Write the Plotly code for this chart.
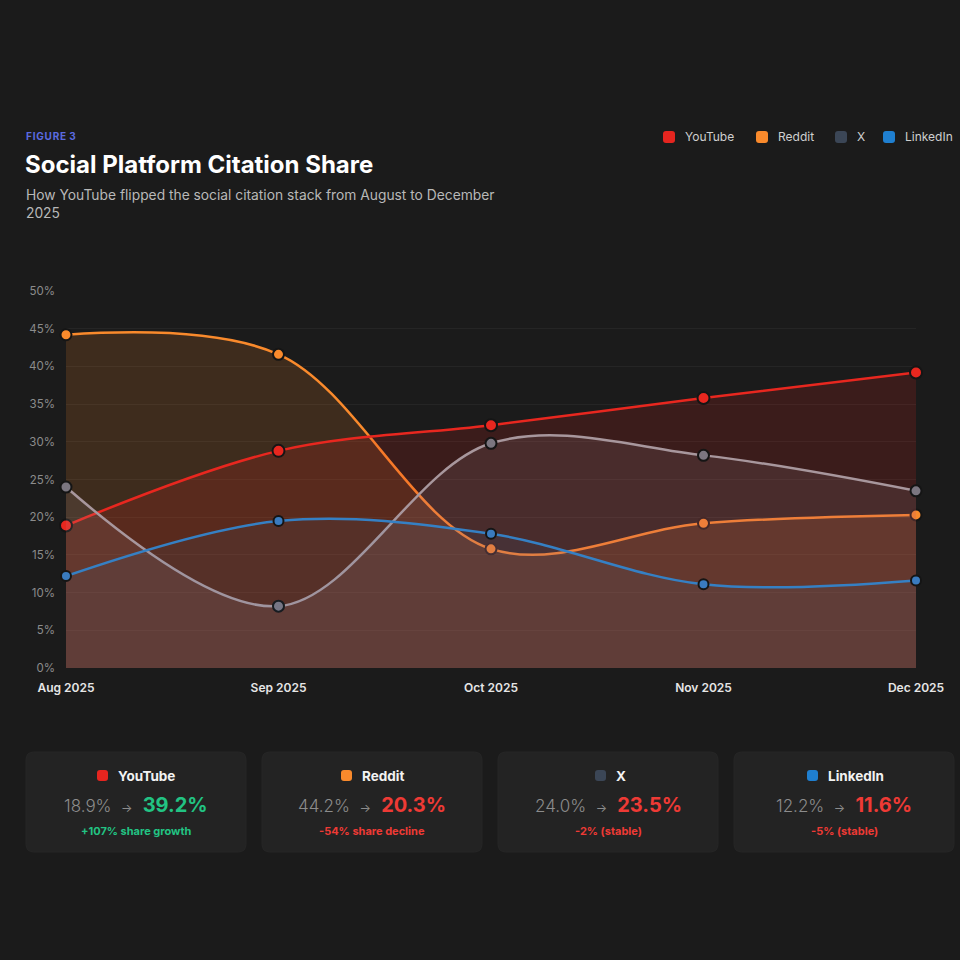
import plotly.graph_objects as go

# ---------------- data ----------------
months = ["Aug 2025", "Sep 2025", "Oct 2025", "Nov 2025", "Dec 2025"]
platforms = ["YouTube", "Reddit", "X", "LinkedIn"]
youtube = [18.9, 28.8, 32.2, 35.8, 39.2]
reddit = [44.2, 41.6, 15.8, 19.2, 20.3]
x_share = [24.0, 8.2, 29.8, 28.2, 23.5]
linkedin = [12.2, 19.5, 17.8, 11.1, 11.6]
change_notes = ["share growth", "share decline", "(stable)", "(stable)"]
y_ticks = [0, 5, 10, 15, 20, 25, 30, 35, 40, 45, 50]

series = {"YouTube": youtube, "Reddit": reddit, "X": x_share, "LinkedIn": linkedin}

# ---------------- style ----------------
BG = "#1b1b1b"
CARD = "#232323"
legend_col = {"YouTube": "#e5251f", "Reddit": "#f98a2c", "X": "#3b4656", "LinkedIn": "#1f7fd0"}
line_col = {"YouTube": "#e8271f", "Reddit": "#f98a2c", "X": "#a8979d", "LinkedIn": "#3580c4"}
marker_col = {"YouTube": "#e8271f", "Reddit": "#f98a2c", "X": "#7b7680", "LinkedIn": "#3a7bbf"}
marker_size = {"YouTube": 12, "Reddit": 11, "X": 11, "LinkedIn": 10}
fill_col = {"YouTube": "rgba(229,37,31,0.16)", "Reddit": "rgba(247,137,43,0.16)",
            "X": "rgba(183,165,171,0.12)", "LinkedIn": "rgba(53,128,196,0.07)"}
FONT = "Inter"

# plot-area pixel frame
L, R, T, B = 66, 916, 291, 668
W = H = 960


def px(x):
    return (x - L) / (R - L)


def py(y):
    return (B - y) / (B - T)


fig = go.Figure()
draw_order = ["Reddit", "YouTube", "X", "LinkedIn"]
for name in draw_order:
    fig.add_trace(go.Scatter(
        x=months, y=series[name], name=name, mode="lines+markers",
        line=dict(color=line_col[name], width=2.5, shape="spline", smoothing=1),
        marker=dict(size=marker_size[name], color=marker_col[name], line=dict(color="#151515", width=2)),
        fill="tozeroy", fillcolor=fill_col[name], cliponaxis=False, showlegend=False,
    ))

shapes = []
annotations = []


def rrect(x0, y0, x1, y1, r, color, line=None):
    # rounded rectangle from pixel coords
    X0, X1 = px(x0), px(x1)
    Y0, Y1 = py(y0), py(y1)  # Y0 top (larger), Y1 bottom
    rx = r / (R - L)
    ry = r / (B - T)
    path = (f"M {X0+rx},{Y0} L {X1-rx},{Y0} Q {X1},{Y0} {X1},{Y0-ry} "
            f"L {X1},{Y1+ry} Q {X1},{Y1} {X1-rx},{Y1} L {X0+rx},{Y1} "
            f"Q {X0},{Y1} {X0},{Y1+ry} L {X0},{Y0-ry} Q {X0},{Y0} {X0+rx},{Y0} Z")
    shapes.append(dict(type="path", xref="paper", yref="paper", path=path,
                       fillcolor=color, line=dict(width=1 if line else 0, color=line or color),
                       layer="below"))


def text(x, y, s, size, color, xanchor="left", weight=400):
    annotations.append(dict(x=px(x), y=py(y), xref="paper", yref="paper", text=s,
                            showarrow=False, xanchor=xanchor, yanchor="middle",
                            font=dict(family=FONT, size=size, color=color, weight=weight)))


# header
hs = "\u200a"
text(24, 136, hs.join("FIGURE") + hs + " " + "3", 10, "#5b6be0", weight=700)
text(23, 164, "Social Platform Citation Share", 24, "#ffffff", weight=700)
annotations.append(dict(x=px(24), y=py(185), xref="paper", yref="paper",
                        text="How YouTube flipped the social citation stack from August to December<br>2025",
                        showarrow=False, xanchor="left", yanchor="top", align="left",
                        font=dict(family=FONT, size=13.8, color="#b8b8b8")))

# legend
leg_sq = {"YouTube": 663, "Reddit": 756, "X": 835, "LinkedIn": 883}
for name in platforms:
    x0 = leg_sq[name]
    rrect(x0, 131, x0 + 12, 143, 3, legend_col[name])
    text(x0 + 20, 137, name, 12, "#cfcfcf")

# cards
card_x = [26, 262, 498, 734]
card_sq = [97, 341, 595, 807]
for i, name in enumerate(platforms):
    x0 = card_x[i]
    rrect(x0, 752, x0 + 220, 852, 8, CARD, line="#262626")
    sq = card_sq[i]
    rrect(sq, 770, sq + 11, 781, 3, legend_col[name])
    text(sq + 19, 775.5, name, 13.5, "#f2f2f2", weight=700)
    v0, v1 = series[name][0], series[name][-1]
    pct = round((v1 - v0) / v0 * 100)
    good = pct > 0
    col = "#22c383" if good else "#ee3a35"
    s = (f"<span style='color:#8c8c8c;font-size:17px;font-weight:300'>{v0:.1f}%&nbsp;&nbsp;</span>"
         f"<span style='color:#8c8c8c;font-size:12px'>→&nbsp;&nbsp;&nbsp;</span>"
         f"<b><span style='color:{col};font-size:20px'>{v1:.1f}%</span></b>")
    text(x0 + 110, 805, s, 17, "#8c8c8c", xanchor="center")
    sign = "+" if good else ""
    text(x0 + 110, 831, f"{sign}{pct}% {change_notes[i]}", 11, col, xanchor="center", weight=700)

fig.update_layout(
    width=W, height=H, paper_bgcolor=BG, plot_bgcolor=BG,
    margin=dict(l=L, r=W - R, t=T, b=H - B),
    shapes=shapes, annotations=annotations,
    font=dict(family=FONT),
    xaxis=dict(type="category", range=[0, 4], showgrid=False, zeroline=False, showline=False,
               ticks="", tickfont=dict(family=FONT, size=12, color="#e6e6e6", weight=600),
               ticklabelstandoff=11),
    yaxis=dict(range=[0, 50], tickvals=y_ticks, ticktext=[f"{v}%" for v in y_ticks],
               showgrid=True, gridcolor="#252525", gridwidth=1, zeroline=False, showline=False,
               ticks="", tickfont=dict(family=FONT, size=11.5, color="#8c8c8c"),
               ticklabelstandoff=10),
    hovermode=False,
)

fig.write_html("out.html")
